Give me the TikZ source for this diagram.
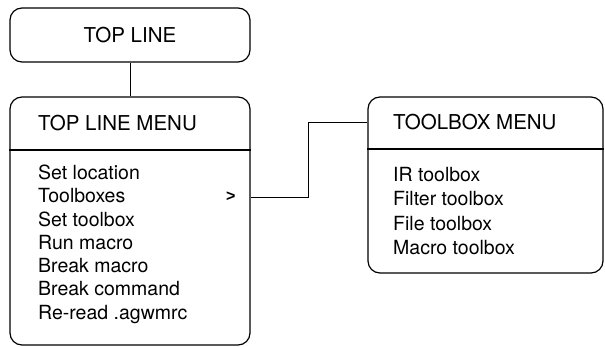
\documentclass[tikz,border=0pt]{standalone}
\usepackage{fontspec}
\setmainfont{TeX Gyre Heros}
\newfontfamily\markfont{Liberation Sans}
\begin{document}
\begin{tikzpicture}[x=1pt,y=-1pt,
  box/.style={draw, rounded corners=12pt, line width=1.2pt, inner sep=0pt},
  title/.style={anchor=base west, inner sep=0pt, font=\fontsize{20.5}{24}\selectfont},
  item/.style={anchor=base west, inner sep=0pt, font=\fontsize{19.5}{24}\selectfont},
  wire/.style={draw, line width=1pt}]
\useasboundingbox (0,0) rectangle (605,347);

% top-level box
\node[box, minimum width=240pt, minimum height=54pt,
      font=\fontsize{20.5}{24}\selectfont] (top) at (130,35) {TOP LINE};

% main menu
\node[box, minimum width=240pt, minimum height=248pt] (menu) at (130,221) {};
\coordinate (msep) at (0,150);
\draw[line width=1.2pt] (menu.west |- msep) -- (menu.east |- msep);
\node[title] (mtitle) at (38,131) {TOP LINE MENU};
\node[item] (m1) at (38,179.5) {Set location};
\node[item] (m2) at (38,202.8) {Toolboxes};
\node[item] (m3) at (38,226.1) {Set toolbox};
\node[item] (m4) at (38,249.4) {Run macro};
\node[item] (m5) at (38,272.7) {Break macro};
\node[item] (m6) at (38,296.0) {Break command};
\node[item] (m7) at (38,319.3) {Re-read .agwmrc};
\node[item, font={\markfont\fontsize{16}{20}\selectfont\bfseries}] (gt) at (226,202) {>};

% toolbox submenu
\node[box, minimum width=235pt, minimum height=176pt] (tool) at (485.5,185) {};
\coordinate (tsep) at (0,149);
\draw[line width=1.2pt] (tool.west |- tsep) -- (tool.east |- tsep);
\node[title] (ttitle) at (393,130) {TOOLBOX MENU};
\node[item] (t1) at (393,181.5) {IR toolbox};
\node[item] (t2) at (393,205.8) {Filter toolbox};
\node[item] (t3) at (393,230.1) {File toolbox};
\node[item] (t4) at (393,254.4) {Macro toolbox};

% connectors
\draw[wire] (top.south) -- (menu.north);
\coordinate (bend) at (308,0);
\draw[wire] (menu.east |- gt) -- (bend |- gt) |- (tool.west |- ttitle);
\end{tikzpicture}
\end{document}
